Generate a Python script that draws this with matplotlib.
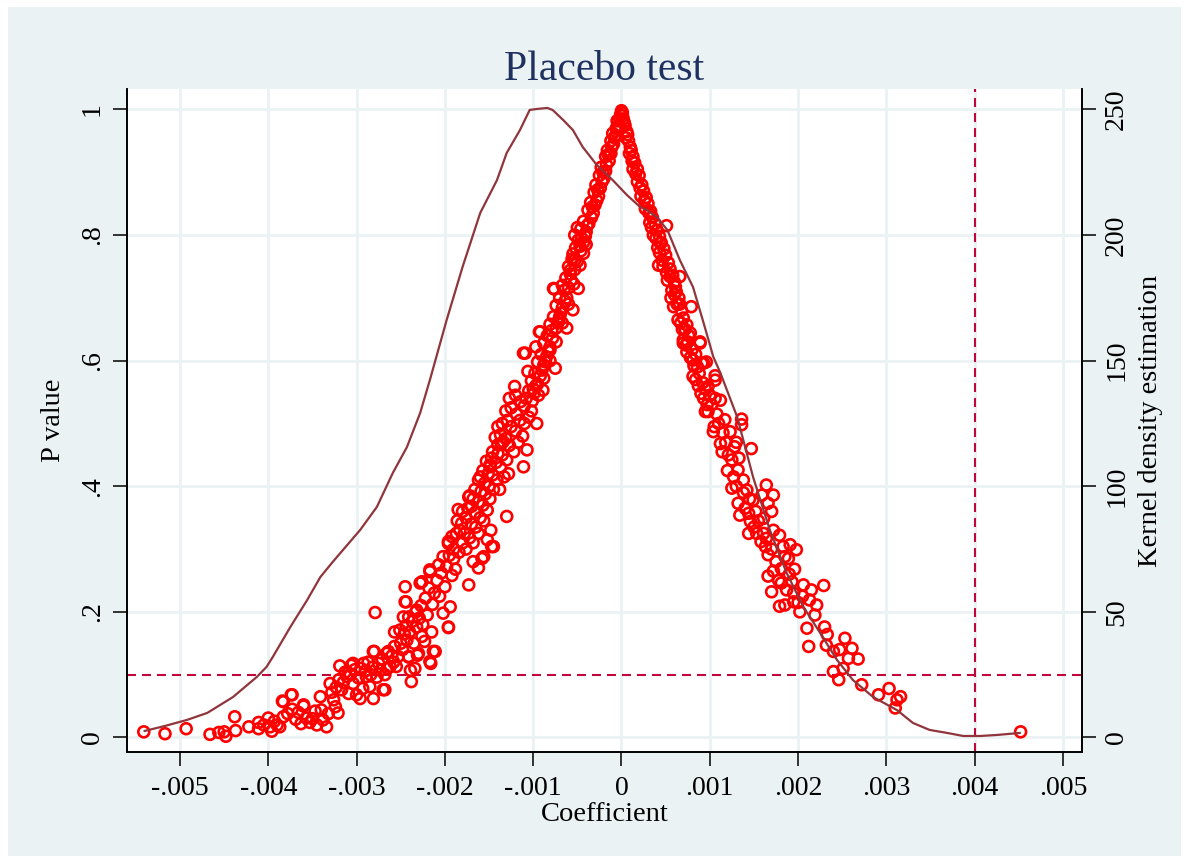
import numpy as np
import matplotlib
matplotlib.use("Agg")
import matplotlib.pyplot as plt
from matplotlib.patches import Rectangle

plt.rcParams.update({
    "font.family": ["Liberation Serif", "DejaVu Serif"],
    "mathtext.fontset": "stix",
})

# coefficients are stored in units of 1e-3
X_TICKS = [-5, -4, -3, -2, -1, 0, 1, 2, 3, 4, 5]
X_TICK_LABELS = ["-.005", "-.004", "-.003", "-.002", "-.001", "0",
                 ".001", ".002", ".003", ".004", ".005"]
P_TICKS = [0, 0.2, 0.4, 0.6, 0.8, 1.0]
P_TICK_LABELS = ["0", ".2", ".4", ".6", ".8", "1"]
KD_TICKS = [0, 50, 100, 150, 200, 250]

P_LINE = 0.1
COEF_LINE = 4.0   # .004

# kernel density of the placebo coefficients (x in 1e-3, density)
KDENSITY = [
    (-5.40, 2.6), (-5.17, 4.6), (-4.92, 7.0), (-4.69, 9.8), (-4.40, 16.1),
    (-4.13, 24.1), (-4.02, 28.1), (-3.95, 32.0), (-3.75, 44.0), (-3.56, 54.7),
    (-3.41, 63.9), (-3.27, 69.9), (-2.96, 82.6), (-2.77, 91.8), (-2.59, 105.3),
    (-2.43, 115.6), (-2.28, 129.2), (-2.17, 142.3), (-1.98, 166.2), (-1.80, 187.3),
    (-1.60, 208.8), (-1.41, 221.9), (-1.30, 232.7), (-1.15, 241.8), (-1.04, 249.8),
    (-0.96, 250.2), (-0.84, 250.6), (-0.78, 249.8), (-0.66, 245.8), (-0.55, 241.8),
    (-0.44, 235.1), (-0.28, 227.9), (-0.10, 221.9), (0.06, 216.0), (0.21, 211.2),
    (0.29, 209.9), (0.40, 207.2), (0.52, 202.0), (0.66, 190.1), (0.81, 179.3),
    (0.92, 166.2), (1.04, 151.5), (1.12, 145.1), (1.31, 127.6), (1.49, 103.7),
    (1.68, 82.6), (1.87, 65.5), (2.06, 52.0), (2.25, 41.6), (2.44, 30.9),
    (2.62, 22.9), (2.85, 16.1), (3.12, 10.9), (3.30, 5.8), (3.49, 3.0),
    (3.69, 1.8), (3.87, 0.6), (4.06, 0.6), (4.25, 1.0), (4.51, 1.8),
]

# placebo estimates: (coefficient in 1e-3, p value)
LEFT_TAIL = [
    (-5.41, .009), (-5.17, .006), (-4.93, .014), (-4.66, .005), (-4.56, .008),
    (-4.50, .009), (-4.48, .002), (-4.38, .033), (-4.37, .011), (-4.22, .017),
    (-4.11, .024), (-4.11, .014), (-4.00, .031), (-3.98, .017), (-3.96, .010),
    (-3.90, .020), (-3.87, .017), (-3.84, .058), (-3.83, .033), (-3.74, .068),
    (-3.73, .045), (-3.69, .029), (-3.60, .050), (-3.57, .031), (-3.53, .024),
    (-3.83, .057), (-3.73, .068), (-3.60, .052), (-4.05, .020), (-3.93, .026),
    (-3.78, .038), (-3.66, .040), (-3.63, .022), (-3.50, .030), (-3.47, .042),
    (-3.45, .020),
]

LEFT_LOW = [
    (-3.41, .065), (-3.40, .044), (-3.38, .028), (-3.34, .017), (-3.32, .038),
    (-3.30, .086), (-3.26, .060), (-3.24, .049), (-3.21, .039), (-3.19, .114),
    (-3.17, .076), (-3.11, .097), (-3.06, .115), (-3.04, .086), (-3.00, .068),
    (-2.96, .062), (-2.92, .118), (-2.89, .097), (-2.85, .081), (-2.81, .062),
    (-2.80, .137), (-2.79, .199), (-2.73, .107), (-2.70, .076), (-2.66, .134),
    (-2.62, .113), (-2.57, .145), (-2.55, .113), (-2.53, .129), (-2.47, .192),
    (-2.45, .216), (-2.43, .155), (-2.41, .129), (-2.39, .107), (-2.38, .089),
    (-2.34, .110), (-2.32, .176), (-2.30, .134), (-2.26, .161), (-2.23, .153),
    (-2.17, .121), (-2.15, .168), (-2.11, .137), (-2.02, .198), (-1.96, .176),
    (-1.94, .208), (-3.04, .118), (-2.81, .137), (-2.68, .076), (-2.64, .137),
    (-2.57, .168), (-2.51, .171), (-2.44, .216), (-2.41, .192), (-2.41, .128),
    (-2.31, .131), (-2.16, .118), (-2.13, .137),
    (-3.28, .072), (-3.23, .080), (-3.20, .092), (-3.15, .088), (-3.13, .104),
    (-3.09, .070), (-3.07, .100), (-3.02, .108), (-2.98, .095), (-2.95, .110),
    (-2.93, .078), (-2.90, .106), (-2.87, .120), (-2.84, .100), (-2.82, .112),
    (-2.77, .096), (-2.75, .118), (-2.71, .125), (-2.68, .100), (-2.65, .110),
    (-2.60, .130), (-2.58, .120), (-2.50, .150), (-2.48, .140), (-2.46, .165),
    (-2.44, .178), (-2.40, .168), (-2.37, .185), (-2.35, .150), (-2.33, .200),
    (-2.29, .190), (-2.27, .210), (-2.25, .180), (-2.22, .222), (-2.20, .195),
    (-2.18, .238), (-2.14, .212), (-2.12, .230), (-2.09, .250), (-2.06, .225),
    (-2.04, .262), (-2.00, .240), (-1.98, .272), (-1.92, .258), (-1.90, .285),
    (-1.88, .268),
]

LEFT_MID = [
    (-2.45, .240), (-2.32, .203), (-2.28, .246), (-2.26, .248), (-2.17, .264),
    (-2.17, .267), (-2.07, .275), (-2.02, .288), (-1.96, .309), (-1.96, .312),
    (-1.87, .325), (-1.85, .363), (-1.81, .341), (-1.73, .243), (-1.73, .383),
    (-1.70, .368), (-1.58, .285), (-1.60, .415), (-1.56, .288), (-1.47, .304),
    (-1.45, .304), (-1.40, .495), (-1.36, .468), (-1.30, .352), (-1.21, .559),
    (-1.72, .385), (-1.49, .434), (-1.40, .466), (-1.34, .471), (-1.49, .431),
    (-1.96, .175),
    (-1.95, .290), (-1.90, .300), (-1.84, .295), (-1.80, .310), (-1.76, .300),
    (-1.92, .320), (-1.83, .330), (-1.78, .325), (-1.72, .318), (-1.68, .310),
    (-1.86, .345), (-1.76, .350), (-1.70, .340), (-1.65, .335), (-1.62, .325),
    (-1.80, .360), (-1.74, .365), (-1.66, .358), (-1.60, .350), (-1.56, .345),
    (-1.68, .380), (-1.62, .375), (-1.57, .370), (-1.52, .362), (-1.66, .395),
    (-1.59, .392), (-1.54, .388), (-1.49, .380), (-1.62, .410), (-1.55, .405),
    (-1.50, .400), (-1.45, .395), (-1.57, .425), (-1.51, .420), (-1.46, .418),
    (-1.41, .410), (-1.53, .440), (-1.47, .445), (-1.42, .438), (-1.37, .430),
    (-1.46, .455), (-1.40, .452), (-1.35, .450), (-1.30, .442), (-1.43, .478),
    (-1.37, .482), (-1.31, .476), (-1.27, .465), (-1.35, .500), (-1.29, .505),
    (-1.25, .495), (-1.20, .488), (-1.31, .520), (-1.25, .525), (-1.19, .515),
    (-1.15, .505), (-1.27, .540), (-1.20, .545), (-1.14, .535), (-1.10, .528),
    (-1.62, .270), (-1.68, .280), (-1.52, .315), (-1.48, .330), (-1.38, .395),
    (-1.33, .415), (-1.28, .420), (-1.22, .455), (-1.17, .470), (-1.12, .480),
    (-1.10, .500), (-1.05, .510), (-1.02, .520), (-1.11, .431), (-1.07, .458),
    (-0.96, .500),
]

LEFT_TOP = [
    (0.00, .998), (-0.01, .992), (0.01, .990), (-0.05, .982), (-0.03, .975),
    (-0.06, .970), (-0.10, .962), (-0.07, .958), (-0.12, .950), (-0.09, .945),
    (-0.16, .935), (-0.12, .930), (-0.18, .925), (-0.14, .918), (-0.23, .908),
    (-0.18, .902), (-0.25, .895), (-0.20, .890), (-0.29, .880), (-0.24, .875),
    (-0.31, .868), (-0.26, .862), (-0.35, .852), (-0.30, .848), (-0.38, .840),
    (-0.32, .835), (-0.43, .822), (-0.37, .818), (-0.46, .810), (-0.40, .805),
    (-0.50, .812), (-0.49, .792), (-0.43, .788), (-0.52, .780), (-0.46, .775),
    (-0.40, .785), (-0.56, .762), (-0.50, .758), (-0.60, .750), (-0.53, .745),
    (-0.47, .752), (-0.63, .732), (-0.57, .728), (-0.67, .720), (-0.60, .716),
    (-0.54, .722), (-0.70, .700), (-0.64, .695), (-0.74, .688), (-0.67, .684),
    (-0.60, .690), (-0.77, .670), (-0.71, .665), (-0.81, .658), (-0.74, .652),
    (-0.67, .660), (-0.84, .640), (-0.78, .636), (-0.88, .628), (-0.81, .622),
    (-0.74, .630), (-0.91, .610), (-0.85, .606), (-0.95, .598), (-0.88, .593),
    (-0.81, .600), (-0.98, .580), (-0.92, .576), (-1.02, .568), (-0.95, .563),
    (-0.88, .572), (-1.05, .552), (-0.99, .548), (-1.08, .540), (-1.01, .536),
    (-0.94, .545),
    (-0.76, .714), (-0.55, .681), (-0.62, .652), (-0.49, .715), (-0.70, .670),
    (-0.58, .744), (-0.43, .771), (-0.81, .617), (-0.89, .553), (-0.75, .588),
    (-0.93, .646), (-0.97, .622), (-1.06, .583), (-1.09, .612), (-1.11, .612),
    (-0.92, .646), (-0.77, .715), (-0.53, .800),
    (-0.02, .985), (-0.04, .968), (-0.08, .955), (-0.11, .940), (-0.15, .928),
    (-0.17, .912), (-0.21, .900), (-0.22, .885), (-0.27, .872), (-0.28, .855),
    (-0.33, .845), (-0.34, .828), (-0.39, .815), (-0.41, .798), (-0.45, .795),
    (-0.47, .782), (-0.55, .770), (-0.53, .760), (-0.58, .738), (-0.65, .712),
    (-0.62, .700), (-0.69, .676), (-0.72, .660), (-0.79, .648), (-0.83, .615),
    (-0.86, .598), (-0.90, .585), (-0.97, .560), (-1.00, .555),
]

RIGHT_TOP = [
    (0.02, .985), (0.04, .975), (0.06, .965), (0.05, .955), (0.08, .950),
    (0.10, .940), (0.09, .930), (0.13, .925), (0.15, .915), (0.13, .905),
    (0.18, .905), (0.20, .895), (0.18, .885), (0.23, .880), (0.25, .870),
    (0.22, .862), (0.28, .860), (0.30, .850), (0.27, .842), (0.33, .838),
    (0.35, .828), (0.32, .820), (0.38, .818), (0.40, .808), (0.36, .800),
    (0.43, .798), (0.45, .788), (0.41, .780), (0.48, .778), (0.50, .768),
    (0.46, .760), (0.53, .756), (0.55, .746), (0.51, .740), (0.58, .736),
    (0.60, .725), (0.51, .815), (0.42, .752), (0.66, .734), (0.55, .734),
    (0.61, .718), (0.44, .787),
    (0.01, .995), (0.03, .980), (0.07, .960), (0.11, .935), (0.12, .918),
    (0.16, .898), (0.21, .875), (0.26, .855), (0.31, .835), (0.34, .812),
    (0.39, .795), (0.43, .772), (0.47, .750), (0.52, .728), (0.57, .712),
    (0.56, .700), (0.60, .705), (0.66, .690), (0.69, .650), (0.75, .630),
    (0.82, .592), (0.87, .560), (0.93, .540),
]

RIGHT_LOW = [
    (0.79, .686), (0.70, .633), (0.89, .628), (0.81, .601), (0.93, .596),
    (1.06, .576), (0.59, .686), (0.70, .628), (0.74, .614), (0.89, .630),
    (0.81, .575), (0.96, .598), (0.95, .519), (1.06, .569), (1.12, .537),
    (1.04, .487), (1.12, .468), (1.17, .506), (1.23, .487), (1.28, .463),
    (1.36, .507), (1.36, .498), (1.47, .460), (1.25, .442), (1.27, .415),
    (1.32, .426), (1.38, .410), (1.25, .397), (1.42, .394), (1.32, .373),
    (1.34, .354), (1.44, .357), (1.46, .344), (1.49, .378), (1.59, .386),
    (1.64, .402), (1.72, .386), (1.66, .373), (1.70, .360), (1.61, .349),
    (1.44, .325), (1.53, .325), (1.61, .325), (1.64, .317), (1.72, .330),
    (1.79, .322), (1.63, .304), (1.66, .291), (1.83, .304), (1.91, .307),
    (1.98, .299), (1.85, .288), (1.89, .285), (1.81, .269), (1.96, .268),
    (1.66, .257), (1.81, .246), (1.93, .248), (1.70, .232), (1.87, .235),
    (2.06, .243), (2.15, .235), (2.29, .242), (2.13, .219), (2.21, .211),
    (1.79, .209), (1.85, .211), (1.95, .216), (2.02, .200), (2.19, .195),
    (2.10, .174), (2.12, .145), (2.30, .176), (2.33, .164), (2.32, .147),
    (2.40, .137), (2.47, .140), (2.53, .158), (2.61, .142), (2.57, .126),
    (2.68, .125), (2.40, .105), (2.46, .092), (2.51, .110), (2.72, .084),
    (2.91, .068), (3.03, .078), (3.10, .047), (3.12, .060), (3.16, .065),
    (0.64, .665), (0.74, .657), (0.78, .644), (0.91, .596), (0.98, .559),
    (1.06, .540), (0.98, .519),
    (0.62, .710), (0.65, .700), (0.63, .690), (0.68, .680), (0.70, .668),
    (0.67, .660), (0.72, .650), (0.76, .640), (0.73, .625), (0.80, .618),
    (0.84, .610), (0.78, .605), (0.86, .590), (0.88, .580), (0.84, .570),
    (0.92, .565), (0.95, .555), (0.90, .548), (1.00, .545), (1.02, .530),
    (0.97, .530), (1.08, .515), (1.10, .500), (1.05, .495), (1.15, .485),
    (1.18, .470), (1.14, .455), (1.21, .450), (1.30, .470), (1.33, .445),
    (1.20, .425), (1.30, .400), (1.38, .390), (1.45, .380), (1.40, .365),
    (1.52, .360), (1.55, .345), (1.50, .335), (1.58, .312), (1.70, .300),
    (1.75, .280), (1.72, .265), (1.78, .250), (1.90, .260), (1.95, .230),
    (2.00, .215), (2.05, .225),
]

RIGHT_OUTLIER = [(4.52, .009)]

BG = "#EAF2F3"
RED = "#FF0000"
MAROON = "#90353B"
CRANBERRY = "#C0063A"
NAVY = "#1E3160"


def main() -> None:
    fig = plt.figure(figsize=(11.89, 8.63), dpi=100)
    fig.patch.set_facecolor("white")
    fig.patches.append(Rectangle((8 / 1189, 7 / 863), 1173 / 1189, 849 / 863,
                                 transform=fig.transFigure, facecolor=BG,
                                 edgecolor="none", zorder=-10))

    ax = fig.add_axes([127 / 1189, 111 / 863, 955 / 1189, 663 / 863])
    ax.set_facecolor("white")

    pts = np.array(LEFT_TAIL + LEFT_LOW + LEFT_MID + LEFT_TOP
                   + RIGHT_TOP + RIGHT_LOW + RIGHT_OUTLIER)
    kd = np.array(KDENSITY)

    p_lim = (-0.0231, 1.0326)
    ax.set_xlim(-5.60, 5.215)
    ax.set_ylim(*p_lim)

    ax.grid(True, color=BG, linewidth=2.0, zorder=0)
    ax.set_axisbelow(True)

    ax.axhline(P_LINE, color=CRANBERRY, linewidth=1.5, linestyle=(0, (4.3, 2.9)), zorder=1)
    ax.axvline(COEF_LINE, color=CRANBERRY, linewidth=1.5, linestyle=(0, (4.3, 2.9)), zorder=1)

    ax.scatter(pts[:, 0], pts[:, 1], s=62, facecolors="none",
               edgecolors=RED, linewidths=1.9, zorder=2)

    ax.set_xticks(X_TICKS)
    ax.set_xticklabels(X_TICK_LABELS)
    ax.set_yticks(P_TICKS)
    ax.set_yticklabels(P_TICK_LABELS, rotation=90, va="center")
    ax.tick_params(axis="x", direction="out", length=10, width=1.1, labelsize=20, pad=7)
    ax.tick_params(axis="y", direction="out", length=10, width=1.1, labelsize=20, pad=6)
    ax.set_xlabel("Coefficient", fontsize=20.5, labelpad=1)
    ax.set_ylabel("P value", fontsize=20.5, labelpad=10)

    ax2 = ax.twinx()
    ax2.plot(kd[:, 0], kd[:, 1], color=MAROON, linewidth=1.6, zorder=3)
    ax2.set_ylim(p_lim[0] * 250, p_lim[1] * 250)
    ax2.set_yticks(KD_TICKS)
    ax2.set_yticklabels([str(t) for t in KD_TICKS], rotation=90, va="center")
    ax2.tick_params(axis="y", direction="out", length=10, width=1.1, labelsize=20, pad=6)
    ax2.set_ylabel("Kernel density estimation", fontsize=20.5, labelpad=6)

    for a in (ax, ax2):
        a.spines["top"].set_visible(False)
        for side in ("left", "bottom", "right"):
            a.spines[side].set_linewidth(1.2)
            a.spines[side].set_color("black")

    ax.set_title("Placebo test", fontsize=30, color=NAVY, pad=4)

    fig.savefig("out.png", dpi=100, facecolor=fig.get_facecolor())
    plt.close(fig)


if __name__ == "__main__":
    main()
